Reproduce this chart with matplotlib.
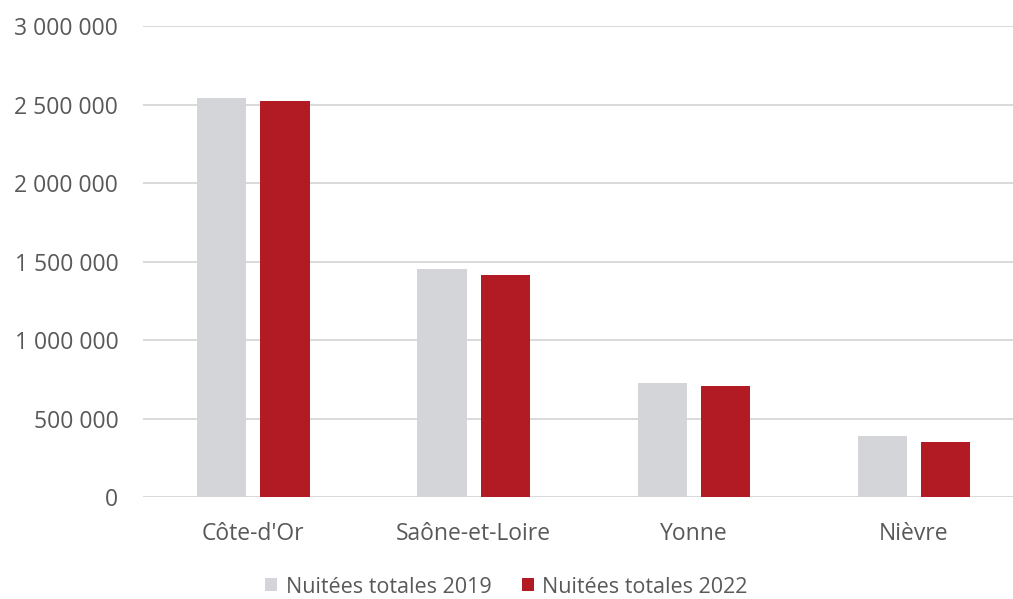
#!/usr/bin/env python3
"""
Nuitées totales par département (Bourgogne), 2019 vs 2022
"""

import numpy as np
import matplotlib.pyplot as plt
from matplotlib.ticker import FuncFormatter

# Daten
departements = ["Côte-d'Or", "Saône-et-Loire", "Yonne", "Nièvre"]
nuitees_2019 = [2545000, 1452000, 728000, 392000]
nuitees_2022 = [2526000, 1416000, 711000, 354000]
labels_serie = ["Nuitées totales 2019", "Nuitées totales 2022"]

GRIS = "#d4d5d8"
ROUGE = "#b21a24"
TEXTE = "#595959"

plt.rcParams['font.family'] = ['Open Sans', 'DejaVu Sans']

fig = plt.figure(figsize=(10.13, 5.99), dpi=100)
ax = fig.add_axes([0.1415, 0.1698, 0.8585, 0.7862])

x = np.arange(len(departements))
w = 0.224
off = 0.1435
ax.bar(x - off, nuitees_2019, width=w, color=GRIS, label=labels_serie[0], zorder=3)
ax.bar(x + off, nuitees_2022, width=w, color=ROUGE, label=labels_serie[1], zorder=3)

ax.set_xlim(-0.5, 3.45)
ax.set_ylim(0, 3000000)
ax.set_yticks(np.arange(0, 3000001, 500000))
ax.yaxis.set_major_formatter(FuncFormatter(lambda v, p: f"{int(v):,}".replace(",", " ")))
ax.set_xticks(x)
ax.set_xticklabels(departements)

ax.grid(axis="y", color="#d9d9d9", linewidth=1.4, zorder=0)
for s in ax.spines.values():
    s.set_visible(False)
ax.tick_params(axis="both", length=0, labelsize=16.5, labelcolor=TEXTE)
ax.tick_params(axis="y", pad=18)
ax.tick_params(axis="x", pad=18)

fig.legend(loc="lower center", bbox_to_anchor=(0.5, -0.03), ncol=2, frameon=False,
           fontsize=15.5, labelcolor=TEXTE, handlelength=0.55, handleheight=0.55,
           handletextpad=0.4, columnspacing=1.4)

fig.savefig("out.png", dpi=100)
